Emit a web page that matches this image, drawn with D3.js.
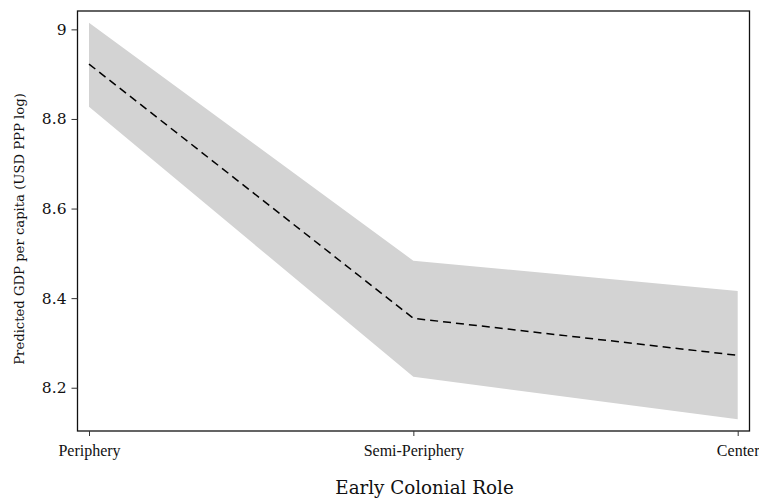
<!DOCTYPE html>
<html>
<head>
<meta charset="utf-8">
<script src="https://cdn.jsdelivr.net/npm/d3@7"></script>
<style>
  html, body { margin: 0; padding: 0; background: #fff; }
  svg { display: block; }
</style>
</head>
<body>
<svg id="chart" width="759" height="501"></svg>
<script>
// Predicted values with confidence bounds by early colonial role
const categories = ["Periphery", "Semi-Periphery", "Center"];
const predicted = [8.9225, 8.355, 8.2723];
const upper = [9.0147, 8.4835, 8.416];
const lower = [8.827, 8.2246, 8.1295];
const yTicks = [8.2, 8.4, 8.6, 8.8, 9];

const serif = "'DejaVu Serif', 'Liberation Serif', serif";
const narrowSerif = "'Liberation Serif', 'DejaVu Serif', serif";
const svg = d3.select("#chart");
const box = { left: 77.5, right: 749.5, top: 11, bottom: 431 };

const x = d3.scalePoint()
  .domain(categories)
  .range([89, 737.7]);

const y = d3.scaleLinear()
  .domain([8.1034, 9.041])
  .range([box.bottom, box.top]);

const rows = categories.map((c, i) => ({ c, p: predicted[i], hi: upper[i], lo: lower[i] }));

// Confidence band
svg.append("path")
  .datum(rows)
  .attr("fill", "#d3d3d3")
  .attr("d", d3.area()
    .x(d => x(d.c))
    .y0(d => y(d.lo))
    .y1(d => y(d.hi)));

// Predicted line
svg.append("path")
  .datum(rows)
  .attr("fill", "none")
  .attr("stroke", "#000")
  .attr("stroke-width", 1.5)
  .attr("stroke-dasharray", "8,5")
  .attr("d", d3.line().x(d => x(d.c)).y(d => y(d.p)));

// Plot frame
svg.append("rect")
  .attr("x", box.left).attr("y", box.top)
  .attr("width", box.right - box.left)
  .attr("height", box.bottom - box.top)
  .attr("fill", "none")
  .attr("stroke", "#111")
  .attr("stroke-width", 1.3);

// Y axis
const yAxis = svg.append("g")
  .attr("transform", `translate(${box.left},0)`)
  .call(d3.axisLeft(y).tickValues(yTicks).tickSize(6).tickPadding(5)
    .tickFormat(d => d3.format("")(d)));
yAxis.select(".domain").remove();
yAxis.selectAll(".tick line").attr("stroke", "#333");
yAxis.selectAll(".tick text")
  .attr("fill", "#111")
  .style("font-family", serif)
  .style("font-size", "15.5px");

// X axis
const xAxis = svg.append("g")
  .attr("transform", `translate(0,${box.bottom})`)
  .call(d3.axisBottom(x).tickSize(5).tickPadding(9));
xAxis.select(".domain").remove();
xAxis.selectAll(".tick line").attr("stroke", "#333");
xAxis.selectAll(".tick text")
  .attr("fill", "#111")
  .style("font-family", narrowSerif)
  .style("font-size", "16px");

// Axis titles
svg.append("text")
  .attr("x", 424.5)
  .attr("y", 494)
  .attr("text-anchor", "middle")
  .attr("fill", "#111")
  .style("font-family", serif)
  .style("font-size", "18.3px")
  .text("Early Colonial Role");

svg.append("text")
  .attr("transform", "translate(24,229) rotate(-90)")
  .attr("text-anchor", "middle")
  .attr("fill", "#111")
  .style("font-family", serif)
  .style("font-size", "13.2px")
  .text("Predicted GDP per capita (USD PPP log)");
</script>
</body>
</html>
